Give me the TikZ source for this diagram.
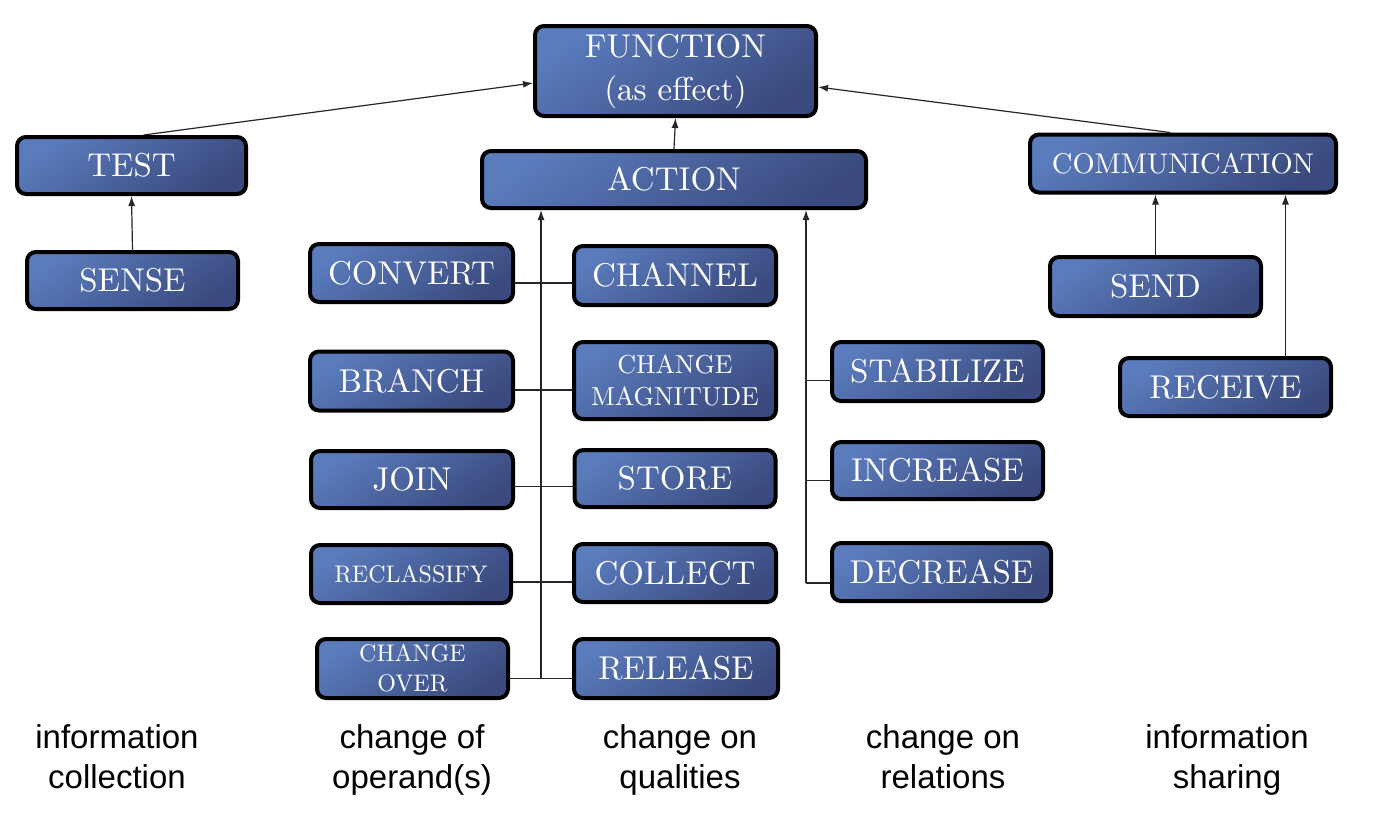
\documentclass[tikz,border=0pt]{standalone}
\usepackage{fontspec}
\newfontfamily\labelfont{Liberation Sans}
\newfontfamily\boxfont{lmroman10-regular}[Extension=.otf]
\usetikzlibrary{arrows.meta,calc}
\definecolor{boxtop}{RGB}{90,123,188}
\definecolor{boxbot}{RGB}{58,74,126}
\begin{document}
\begin{tikzpicture}[x=1pt,y=-1pt,
  box/.style={draw=black, line width=4pt, rounded corners=9pt, text=white, align=center,
    inner sep=0pt, top color=boxtop, bottom color=boxbot, shading angle=35,
    font=\boxfont\fontsize{33}{37}\selectfont},
  toptext/.style={font=\boxfont\fontsize{33}{43}\selectfont},
  midtext/.style={font=\boxfont\fontsize{28.5}{32}\selectfont},
  smalltext/.style={font=\boxfont\fontsize{26}{32}\selectfont},
  tinytext/.style={font=\boxfont\fontsize{24}{30}\selectfont},
  conn/.style={line width=1.2pt, draw=black!85},
  arr/.style={conn, -{Latex[length=10pt,width=7pt]}},
  cat/.style={font=\labelfont\fontsize{33}{40}\selectfont, align=center, text=black, inner sep=0pt}
]
\fill[white] (0,0) rectangle (1382,817);
\useasboundingbox (0,0) rectangle (1382,817);

% top level
\node[box, toptext, minimum width=281pt, minimum height=90pt] (func) at (675.5,71) {FUNCTION\\(as effect)};
\node[box, minimum width=229pt, minimum height=57pt] (test) at (131.5,165.5) {TEST};
\node[box, minimum width=211pt, minimum height=57pt] (sense) at (132.5,280.5) {SENSE};
\node[box, minimum width=384pt, minimum height=57pt] (act) at (674,179.5) {ACTION};
\node[box, midtext, minimum width=306pt, minimum height=58pt] (comm) at (1183,163.5) {COMMUNICATION};
\node[box, minimum width=211pt, minimum height=59pt] (send) at (1155.5,286.5) {SEND};
\node[box, minimum width=211pt, minimum height=58pt] (rec) at (1225.5,387) {RECEIVE};

% operand column
\node[box, minimum width=203pt, minimum height=58pt] (conv) at (411.5,273) {CONVERT};
\node[box, minimum width=203pt, minimum height=59pt] (bran) at (411.5,381) {BRANCH};
\node[box, minimum width=202pt, minimum height=57pt] (join) at (412,479.5) {JOIN};
\node[box, tinytext, minimum width=200pt, minimum height=58pt] (recl) at (411,574) {RECLASSIFY};
\node[box, tinytext, minimum width=191pt, minimum height=59pt] (chov) at (412.5,668.5) {CHANGE\\OVER};

% qualities column
\node[box, minimum width=202pt, minimum height=59pt] (chan) at (675,275.5) {CHANNEL};
\node[box, smalltext, minimum width=202pt, minimum height=77pt] (mag) at (675,380.5) {CHANGE\\MAGNITUDE};
\node[box, minimum width=201pt, minimum height=57pt] (store) at (675,478.5) {STORE};
\node[box, minimum width=202pt, minimum height=58pt] (coll) at (675,573) {COLLECT};
\node[box, minimum width=204pt, minimum height=59pt] (rel) at (676,668.5) {RELEASE};

% relations column
\node[box, minimum width=211pt, minimum height=59pt] (stab) at (937.5,371.5) {STABILIZE};
\node[box, minimum width=211pt, minimum height=57pt] (inc) at (937.5,470.5) {INCREASE};
\node[box, minimum width=219pt, minimum height=58pt] (dec) at (941.5,572) {DECREASE};

% category labels
\node[cat] (l1) at (117,760.5) {information\strut\\collection\strut};
\node[cat] (l2) at (412,760.5) {change of\strut\\operand(s)\strut};
\node[cat] (l3) at (680,760.5) {change on\strut\\qualities\strut};
\node[cat] (l4) at (943,760.5) {change on\strut\\relations\strut};
\node[cat] (l5) at (1227,760.5) {information\strut\\sharing\strut};

% connectors to FUNCTION
\draw[arr] ([xshift=12pt]test.north) -- ([yshift=-12pt]func.west);
\draw[arr] ([xshift=-13pt]comm.north) -- ([yshift=-16pt]func.east);
\draw[arr] (act.north) -- (func.south);
\draw[arr] (sense.north) -- (test.south);
\draw[arr] (send.north) -- (send.north |- comm.south);
\draw[arr] ([xshift=60pt]rec.north) -- ([xshift=60pt]rec.north |- comm.south);

% left trunk
\coordinate (lt) at (541,0);
\draw[arr] ([yshift=-10pt]chov.east -| lt) -- (lt |- act.south);
\draw[conn] ([yshift=-10pt]conv.east) -- ([yshift=-10pt]conv.east -| chan.west);
\draw[conn] ([yshift=-9pt]bran.east) -- ([yshift=-9pt]bran.east -| mag.west);
\draw[conn] ([yshift=-7pt]join.east) -- ([yshift=-7pt]join.east -| store.west);
\draw[conn] ([yshift=-8pt]recl.east) -- ([yshift=-8pt]recl.east -| coll.west);
\draw[conn] ([yshift=-10pt]chov.east) -- ([yshift=-10pt]chov.east -| rel.west);

% right trunk
\coordinate (rt) at (806,0);
\draw[arr] ([yshift=-11pt]dec.west -| rt) -- (rt |- act.south);
\draw[conn] ([yshift=-9pt]stab.west) -- ([yshift=-9pt]stab.west -| rt);
\draw[conn] ([yshift=-10pt]inc.west) -- ([yshift=-10pt]inc.west -| rt);
\draw[conn] ([yshift=-11pt]dec.west) -- ([yshift=-11pt]dec.west -| rt);
\end{tikzpicture}
\end{document}
